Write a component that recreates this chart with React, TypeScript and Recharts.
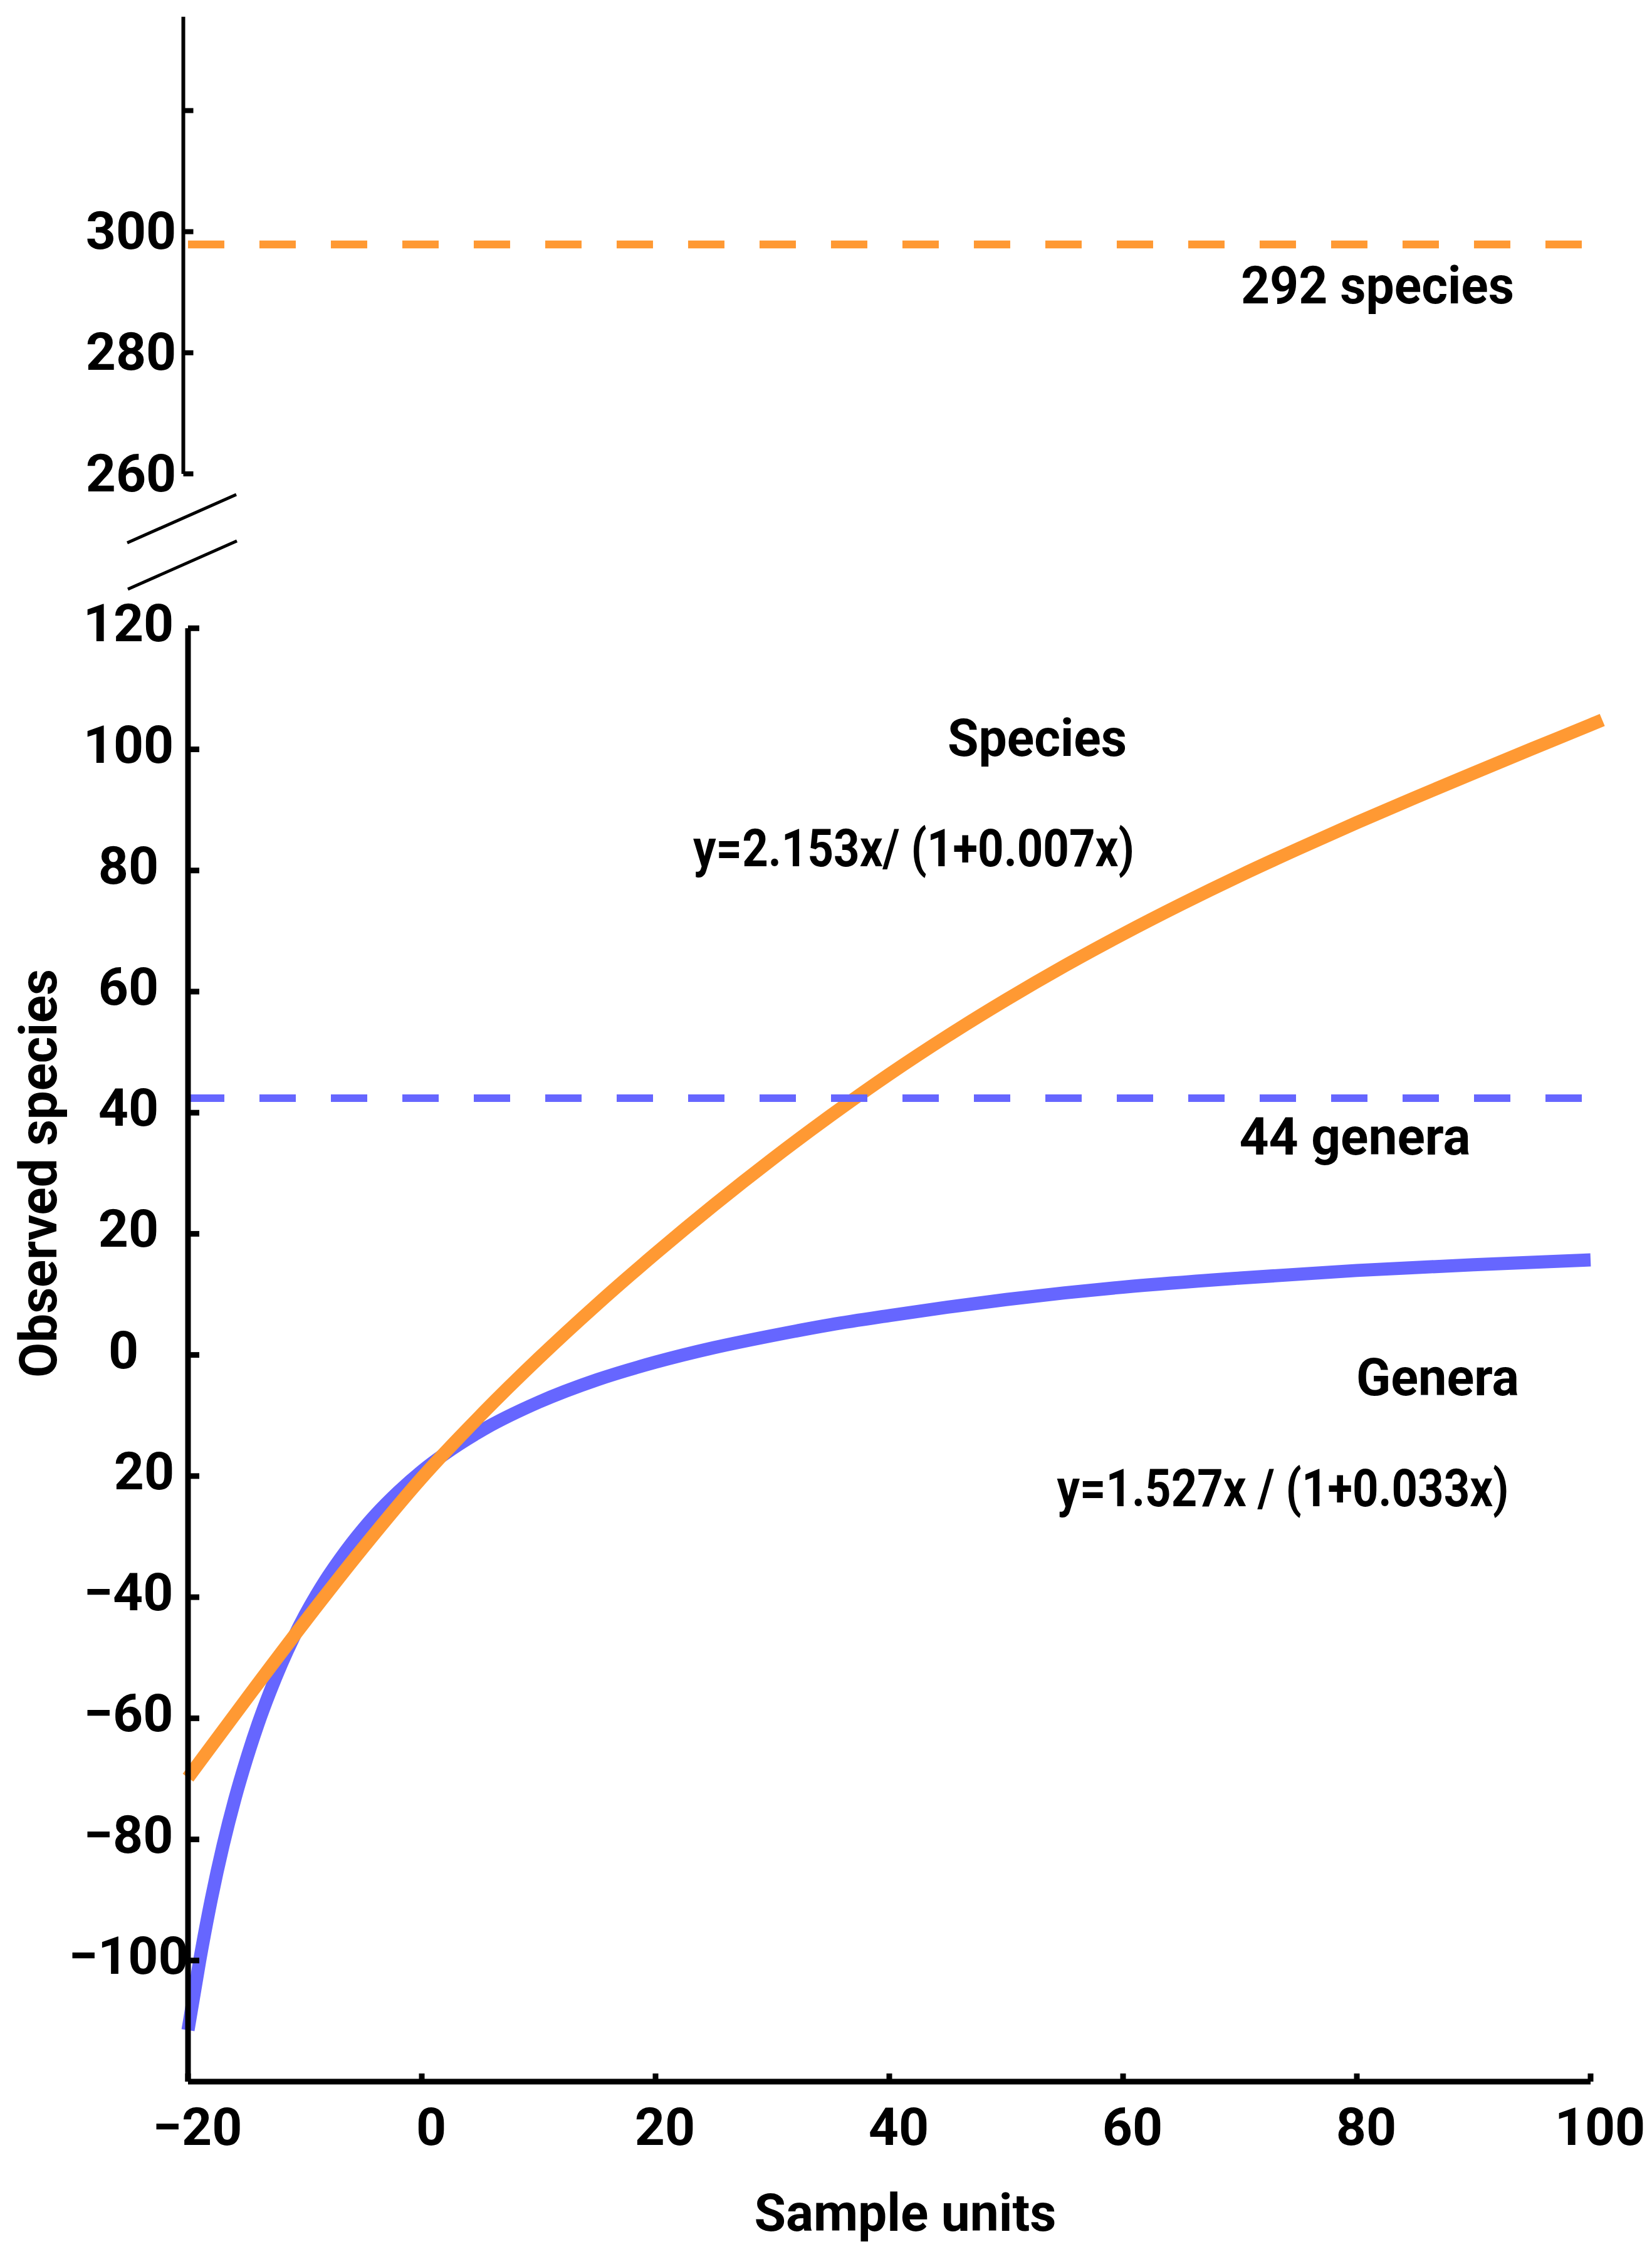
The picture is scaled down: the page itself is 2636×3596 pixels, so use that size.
import React from 'react';
import { LineChart, Line, XAxis, YAxis, ReferenceLine } from 'recharts';

const FONT = 'Roboto, "DejaVu Sans", sans-serif';
const ORANGE = '#FF9933';
const BLUE = '#6666FF';
const FS = 84;

// Genera accumulation curve
const generaX = [-20, -19, -18, -17, -16, -15, -14, -13, -12, -11, -10, -9, -8, -7, -6, -5, -4, -2, 0, 2, 5, 10, 15, 20, 25, 30, 35, 40, 45, 50, 55, 60, 70, 80, 90, 100];
const generaY = [-111.5, -100, -89.8, -81, -73.4, -66.8, -60.9, -55.7, -51, -46.8, -43, -39.6, -36.5, -33.7, -31.1, -28.7, -26.5, -22.6, -19.2, -16.3, -12.6, -7.8, -4.1, -1.2, 1.2, 3.2, 5.0, 6.5, 7.9, 9.15, 10.25, 11.2, 12.7, 13.95, 14.9, 15.7];

// Species accumulation curve
const speciesX = [-20, -15, -10, -5, 0, 5, 10, 15, 20, 25, 30, 35, 40, 45, 50, 55, 60, 65, 70, 75, 80, 85, 90, 95, 100, 101];
const speciesY = [-69.8, -56.8, -44.05, -31.8, -20.3, -10.05, -0.55, 8.35, 16.75, 24.75, 32.35, 39.55, 46.35, 52.7, 58.65, 64.25, 69.5, 74.45, 79.15, 83.6, 87.9, 92.05, 96.1, 100.1, 104.05, 104.85];

// Dashed asymptote levels
const levelX = [-20, 100];
const speciesLevel = [297.9, 297.9];
const generaLevel = [42.4, 42.4];

// Ticks
const xTickValues = [-20, 0, 20, 40, 60, 80, 100];
const xTickLabels = ['\u221220', '0', '20', '40', '60', '80', '100'];
const lowerYTickValues = [-100, -80, -60, -40, -20, 0, 20, 40, 60, 80, 100, 120];
const lowerYTickLabels = ['\u2212100', '\u221280', '\u221260', '\u221240', '20', '0', '20', '40', '60', '80', '100', '120'];
const upperYTickValues = [260, 280, 300, 320];
const upperYTickLabels = ['260', '280', '300', ''];

// Annotation texts (centre x, baseline y, rendered width)
const annotations = [
  { text: '292 species', x: 2198, y: 484, w: 436 },
  { text: 'Species', x: 1655, y: 1206, w: 286 },
  { text: 'y=2.153x/ (1+0.007x)', x: 1458, y: 1382, w: 704 },
  { text: '44 genera', x: 2162, y: 1842, w: 369 },
  { text: 'Genera', x: 2294, y: 2226, w: 260 },
  { text: 'y=1.527x / (1+0.033x)', x: 2047, y: 2403, w: 721 },
];

const zip = (xs: number[], ys: number[]) => xs.map((x, i) => ({ x, y: ys[i] }));
const generaData = zip(generaX, generaY);
const speciesData = zip(speciesX, speciesY);
const speciesLevelData = zip(levelX, speciesLevel);
const generaLevelData = zip(levelX, generaLevel);

const textStyle = { fontFamily: FONT, fontWeight: 700, fontSize: FS, fill: '#000' } as const;

const XTick = (props: any) => {
  const { x, y, payload } = props;
  const i = xTickValues.indexOf(payload.value);
  return (
    <g>
      <line x1={x} x2={x} y1={y} y2={y - 13} stroke="#000" strokeWidth={9} />
      <text x={x + 15} y={y + 101} textAnchor="middle" style={textStyle}>{xTickLabels[i]}</text>
    </g>
  );
};

const LowerYTick = (props: any) => {
  const { x, y, payload } = props;
  const i = lowerYTickValues.indexOf(payload.value);
  const label = lowerYTickLabels[i];
  let shift = 0;
  if (payload.value === 0) shift = -8;
  if (payload.value < 0 && label.indexOf('\u2212') < 0) shift = 25;
  return (
    <g>
      <line x1={x} x2={x + 18} y1={y} y2={y} stroke="#000" strokeWidth={9} />
      <text x={x - 95 + shift} y={y + 21} textAnchor="middle" style={textStyle}>{label}</text>
    </g>
  );
};

const UpperYTick = (props: any) => {
  const { x, y, payload } = props;
  const i = upperYTickValues.indexOf(payload.value);
  return (
    <g>
      <line x1={x} x2={x + 16} y1={y} y2={y} stroke="#000" strokeWidth={8} />
      <text x={x - 83.5} y={y + 27.5} textAnchor="middle" style={textStyle}>{upperYTickLabels[i]}</text>
    </g>
  );
};

export default function App() {
  return (
    <div style={{ position: 'absolute', left: 0, top: 0, width: 2636, height: 3596, background: '#fff' }}>
      <div style={{ position: 'absolute', left: 0, top: 0 }}>
        <LineChart width={2636} height={900} margin={{ top: 26.7, right: 98, bottom: 144, left: 0 }}>
          <XAxis type="number" dataKey="x" domain={[-20.4, 100]} hide height={0} />
          <YAxis
            type="number"
            domain={[260, 335.5]}
            ticks={upperYTickValues}
            interval={0}
            width={292.5}
            axisLine={{ stroke: '#000', strokeWidth: 6 }}
            tickLine={false}
            tickSize={0}
            tickMargin={0}
            tick={(p: any) => <UpperYTick {...p} />}
          />
          <Line data={speciesLevelData} dataKey="y" type="linear" stroke={ORANGE} strokeWidth={12.5} strokeDasharray="58 56" dot={false} activeDot={false} isAnimationActive={false} />
        </LineChart>
      </div>
      <div style={{ position: 'absolute', left: 0, top: 0 }}>
        <LineChart width={2636} height={3596} margin={{ top: 1002.3, right: 60.7, bottom: 0, left: 0 }}>
          <XAxis
            type="number"
            dataKey="x"
            domain={[-20, 102]}
            ticks={xTickValues}
            interval={0}
            height={275}
            axisLine={false}
            tickLine={false}
            tickSize={0}
            tickMargin={0}
            tick={(p: any) => <XTick {...p} />}
          />
          <YAxis
            type="number"
            domain={[-120, 120]}
            ticks={lowerYTickValues}
            interval={0}
            width={300}
            axisLine={{ stroke: '#000', strokeWidth: 9 }}
            tickLine={false}
            tickSize={0}
            tickMargin={0}
            tick={(p: any) => <LowerYTick {...p} />}
          />
          <Line data={generaData} dataKey="y" type="monotone" stroke={BLUE} strokeWidth={21} dot={false} activeDot={false} isAnimationActive={false} />
          <Line data={speciesData} dataKey="y" type="monotone" stroke={ORANGE} strokeWidth={21} dot={false} activeDot={false} isAnimationActive={false} />
          <Line data={generaLevelData} dataKey="y" type="linear" stroke={BLUE} strokeWidth={12} strokeDasharray="58 56" dot={false} activeDot={false} isAnimationActive={false} />
          <ReferenceLine segment={[{ x: -20, y: -120 }, { x: 100, y: -120 }]} stroke="#000" strokeWidth={9} ifOverflow="visible" />
        </LineChart>
      </div>
      <svg width={2636} height={3596} style={{ position: 'absolute', left: 0, top: 0, pointerEvents: 'none' }}>
        <line x1={203} y1={866} x2={377} y2={789} stroke="#000" strokeWidth={5} />
        <line x1={204} y1={940} x2={378} y2={863} stroke="#000" strokeWidth={5} />
        {annotations.map((a) => (
          <text key={a.text} x={a.x} y={a.y} textAnchor="middle" textLength={a.w} lengthAdjust="spacingAndGlyphs" style={textStyle}>{a.text}</text>
        ))}
        <text x={1444.5} y={3559} textAnchor="middle" textLength={482} lengthAdjust="spacingAndGlyphs" style={textStyle}>Sample units</text>
        <text x={90} y={1872} textAnchor="middle" textLength={652} lengthAdjust="spacingAndGlyphs" transform="rotate(-90, 90, 1872)" style={textStyle}>Observed species</text>
      </svg>
    </div>
  );
}
